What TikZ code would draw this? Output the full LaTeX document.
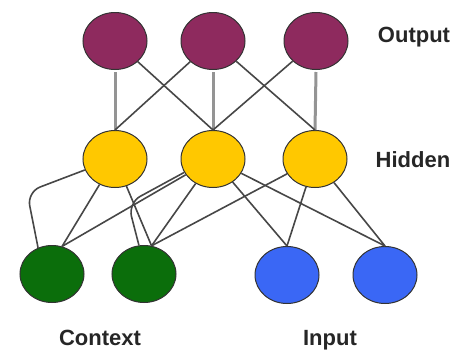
\documentclass[tikz,border=0pt]{standalone}
\usepackage{fontspec}
\setmainfont{Liberation Sans}
\usepackage{tikz}
\usetikzlibrary{shapes.geometric}

\definecolor{outcol}{HTML}{8E2A5E}
\definecolor{hidcol}{HTML}{FFC800}
\definecolor{ctxcol}{HTML}{0B6E0B}
\definecolor{incol}{HTML}{3A67F5}

\begin{document}
\begin{tikzpicture}[x=1pt,y=-1pt,
    unit/.style={ellipse, draw=black!80, line width=1pt, minimum width=64pt, minimum height=57pt, inner sep=0pt},
    link/.style={draw=black!72, line width=1.6pt},
    uplink/.style={draw=black!42, line width=3pt},
    lbl/.style={font=\fontsize{22}{26}\selectfont\bfseries, text=black!85, anchor=base, inner sep=0pt}]
    \useasboundingbox (0,0) rectangle (456,351);

    % Output layer
    \node[unit, fill=outcol] (O1) at (115,41) {};
    \node[unit, fill=outcol] (O2) at (213,41) {};
    \node[unit, fill=outcol] (O3) at (316,41) {};

    % Hidden layer
    \node[unit, fill=hidcol] (H1) at (115,159) {};
    \node[unit, fill=hidcol] (H2) at (213,159) {};
    \node[unit, fill=hidcol] (H3) at (315,159) {};

    % Context and input units
    \node[unit, fill=ctxcol] (C1) at (52,274) {};
    \node[unit, fill=ctxcol] (C2) at (144,274) {};
    \node[unit, fill=incol] (I1) at (287,275) {};
    \node[unit, fill=incol] (I2) at (385,275) {};

    % Hidden to output
    \draw[uplink] (H1.north) -- ([yshift=-2pt]O1.south);
    \draw[uplink] (H2.north) -- ([yshift=-2pt]O2.south);
    \draw[uplink] (H3.north) -- ([yshift=-2pt]O3.south);
    \draw[link] (H1.north) -- (O2);
    \draw[link] (H2.north) -- (O1);
    \draw[link] (H2.north) -- (O3);
    \draw[link] (H3.north) -- (O2);

    % Context to hidden
    \draw[link] (C1.70) -- (H1);
    \draw[link] (C1.70) -- (H2);
    \draw[link] (C2.75) -- (H1);
    \draw[link] (C2.75) -- (H2);
    \draw[link] (C2.75) -- (H3);

    % Copy back to context
    \draw[link, rounded corners=14pt] (H1.200) -- (27,192) -- (C1.118);
    \draw[link, rounded corners=14pt] (H2.205) -- (128,203) -- (C2.100);

    % Input to hidden
    \draw[link] (I1.north) -- (H2);
    \draw[link] (I1.north) -- (H3);
    \draw[link] (I2.north) -- (H2);
    \draw[link] (I2.north) -- (H3);

    % Labels
    \node[lbl] (lout) at (414,42) {Output};
    \node[lbl] (lhid) at (413,167) {Hidden};
    \node[lbl] (lctx) at (100,345) {Context};
    \node[lbl] (linp) at (330,345) {Input};
\end{tikzpicture}
\end{document}
